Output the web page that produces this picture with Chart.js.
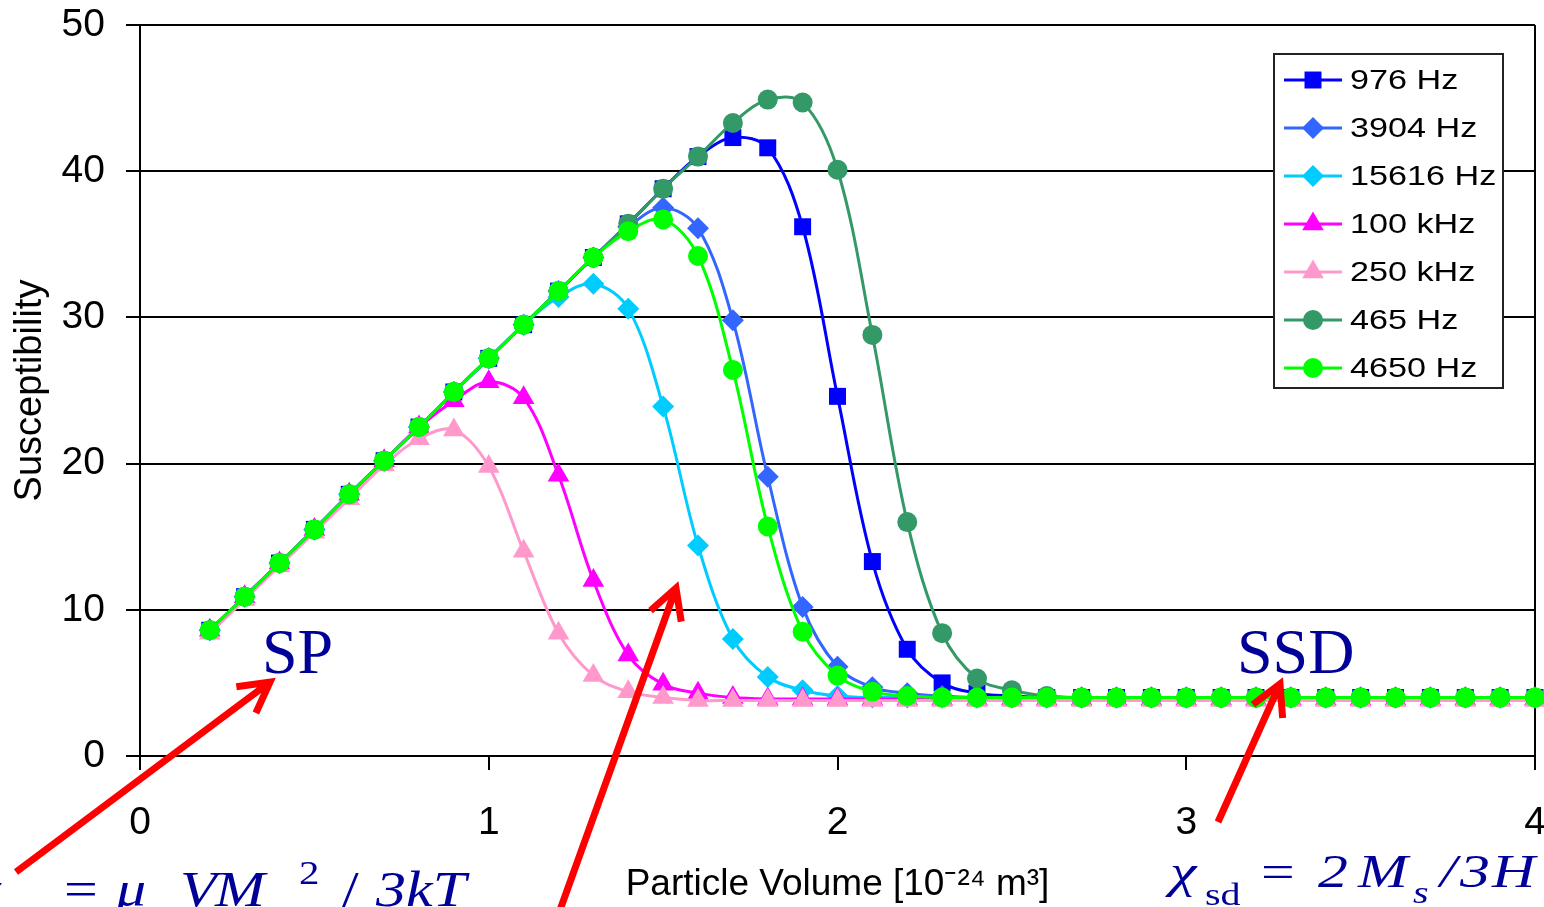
<!DOCTYPE html>
<html>
<head>
<meta charset="utf-8">
<script src="https://cdn.jsdelivr.net/npm/chart.js@4.4.1/dist/chart.umd.min.js"></script>
<style>
  html, body { margin: 0; padding: 0; background: #fff; overflow: hidden; }
  #wrap { width: 1544px; height: 907px; }
</style>
</head>
<body>
<div id="wrap"><canvas id="susChart"></canvas></div>
<script>
// particle volume [1e-24 m3]
const volume = [0.2, 0.3, 0.4, 0.5, 0.6, 0.7, 0.8, 0.9, 1.0, 1.1, 1.2, 1.3, 1.4, 1.5, 1.6, 1.7, 1.8, 1.9, 2.0,
  2.1, 2.2, 2.3, 2.4, 2.5, 2.6, 2.7, 2.8, 2.9, 3.0, 3.1, 3.2, 3.3, 3.4, 3.5, 3.6, 3.7, 3.8, 3.9, 4.0]

const seriesNames = ['976 Hz', '3904 Hz', '15616 Hz', '100 kHz', '250 kHz', '465 Hz', '4650 Hz']

const hz976 = [8.6, 10.9, 13.2, 15.5, 17.9, 20.2, 22.5, 24.9, 27.2, 29.5, 31.8, 34.1, 36.4, 38.8, 41.0,
  42.3, 41.6, 36.2, 24.6, 13.3, 7.3, 5.0, 4.3, 4.1,
  4, 4, 4, 4, 4, 4, 4, 4, 4, 4, 4, 4, 4, 4, 4]
const hz3904 = [8.6, 10.9, 13.2, 15.5, 17.9, 20.2, 22.5, 24.9, 27.2, 29.5, 31.8, 34.1,
  36.2, 37.5, 36.1, 29.8, 19.1, 10.2, 6.1, 4.7, 4.3, 4.1,
  4, 4, 4, 4, 4, 4, 4, 4, 4, 4, 4, 4, 4, 4, 4, 4, 4]
const hz15616 = [8.6, 10.9, 13.2, 15.5, 17.9, 20.2, 22.5, 24.9, 27.2, 29.5,
  31.4, 32.3, 30.6, 23.9, 14.4, 8.0, 5.4, 4.5, 4.1,
  4, 4, 4, 4, 4, 4, 4, 4, 4, 4, 4, 4, 4, 4, 4, 4, 4, 4, 4, 4]
const khz100 = [8.6, 10.9, 13.2, 15.5, 17.9, 20.2, 22.5,
  24.3, 25.6, 24.5, 19.2, 12.0, 6.9, 4.9, 4.3, 4.0,
  3.9, 3.9, 3.9, 3.9, 3.9, 3.9, 3.9, 3.9, 3.9, 3.9, 3.9, 3.9, 3.9, 3.9, 3.9, 3.9, 3.9, 3.9, 3.9, 3.9, 3.9, 3.9, 3.9]
const khz250 = [8.4, 10.7, 13.0, 15.3, 17.6, 19.9, 21.7, 22.3, 19.8, 14.0, 8.4, 5.5, 4.4, 4.0,
  3.8, 3.8, 3.8, 3.8, 3.8, 3.8, 3.8, 3.8, 3.8, 3.8, 3.8, 3.8, 3.8, 3.8, 3.8, 3.8, 3.8, 3.8, 3.8, 3.8, 3.8, 3.8, 3.8, 3.8, 3.8]
const hz465 = [8.6, 10.9, 13.2, 15.5, 17.9, 20.2, 22.5, 24.9, 27.2, 29.5, 31.8, 34.1, 36.4, 38.8, 41.0,
  43.3, 44.9, 44.7, 40.1, 28.8, 16.0, 8.4, 5.3, 4.5, 4.1,
  4, 4, 4, 4, 4, 4, 4, 4, 4, 4, 4, 4, 4, 4]
const hz4650 = [8.6, 10.9, 13.2, 15.5, 17.9, 20.2, 22.5, 24.9, 27.2, 29.5, 31.8, 34.1,
  35.9, 36.7, 34.2, 26.4, 15.7, 8.5, 5.5, 4.4, 4.1,
  4, 4, 4, 4, 4, 4, 4, 4, 4, 4, 4, 4, 4, 4, 4, 4, 4, 4]

const seriesValues = [hz976, hz3904, hz15616, khz100, khz250, hz465, hz4650]
const seriesColors = ['#0000FF', '#3366FF', '#00CCFF', '#FF00FF', '#FF99CC', '#339966', '#00FF00']
const seriesMarkers = ['rect', 'rectRot', 'rectRot', 'triangle', 'triangle', 'circle', 'circle']
const markerSizes = [12, 11, 11, 12.5, 12.5, 10, 10]

const sans = "'Liberation Sans', Arial, sans-serif"
const serif = "'Liberation Serif', 'Times New Roman', serif"

const datasets = seriesNames.map((name, i) => ({
  label: name,
  data: volume.map((v, j) => ({ x: v, y: seriesValues[i][j] })),
  borderColor: seriesColors[i],
  backgroundColor: seriesColors[i],
  pointBackgroundColor: seriesColors[i],
  pointBorderColor: seriesColors[i],
  pointBorderWidth: 0,
  pointStyle: seriesMarkers[i],
  pointRadius: markerSizes[i],
  borderWidth: 3,
  tension: 0.35,
  clip: false,
  order: seriesNames.length - i
}))

// boxed legend with line + marker, like the excel one
const boxLegend = {
  id: 'boxLegend',
  afterDatasetsDraw(chart) {
    const c = chart.ctx
    c.save()
    c.fillStyle = '#fff'
    c.fillRect(1274, 54, 229, 334)
    c.strokeStyle = '#222'
    c.lineWidth = 2
    c.strokeRect(1274, 54, 229, 334)
    chart.data.datasets.forEach((ds, i) => {
      const y = 80 + i * 48
      c.strokeStyle = ds.borderColor
      c.lineWidth = 3
      c.beginPath()
      c.moveTo(1284, y)
      c.lineTo(1342, y)
      c.stroke()
      c.fillStyle = ds.pointBackgroundColor
      Chart.helpers.drawPoint(c, { pointStyle: ds.pointStyle, radius: ds.pointRadius, rotation: 0, borderWidth: 0 }, 1313, y)
      c.save()
      c.translate(1350, y)
      c.scale(1.22, 1)
      c.fillStyle = '#000'
      c.font = '28px ' + sans
      c.textBaseline = 'middle'
      c.fillText(ds.label, 0, 1)
      c.restore()
    })
    c.restore()
  }
}

function txt(c, s, x, y, font, sx) {
  c.save()
  c.translate(x, y)
  c.scale(sx, 1)
  c.font = font
  c.fillText(s, 0, 0)
  c.restore()
}

function arrow(c, x1, y1, x2, y2) {
  const a = Math.atan2(y2 - y1, x2 - x1)
  const len = 34, spread = 0.5
  c.beginPath()
  c.moveTo(x1, y1)
  c.lineTo(x2, y2)
  c.moveTo(x2 - len * Math.cos(a - spread), y2 - len * Math.sin(a - spread))
  c.lineTo(x2, y2)
  c.lineTo(x2 - len * Math.cos(a + spread), y2 - len * Math.sin(a + spread))
  c.stroke()
}

// SP / SSD labels, formulas and red arrows
const notes = {
  id: 'notes',
  afterDraw(chart) {
    const c = chart.ctx
    c.save()
    c.fillStyle = '#000099'
    c.textBaseline = 'alphabetic'
    txt(c, 'SP', 262, 673, '64px ' + serif, 1)
    txt(c, 'SSD', 1237, 673, '64px ' + serif, 1)

    // chi_sp = mu0 V Ms^2 / 3kT  (bottom edge cuts it)
    const L = 'italic 50px ' + serif
    txt(c, 'χ', -26, 906, L, 1.2)
    txt(c, 'sp', 14, 945, '34px ' + serif, 1.2)
    txt(c, '=', 64, 906, '50px ' + serif, 1.2)
    txt(c, 'μ', 116, 906, L, 1.2)
    txt(c, '0', 143, 945, '34px ' + serif, 1.2)
    txt(c, 'V', 180, 906, L, 1.2)
    txt(c, 'M', 215, 906, L, 1.2)
    txt(c, 's', 268, 945, 'italic 34px ' + serif, 1.2)
    txt(c, '2', 299, 884, '34px ' + serif, 1.2)
    txt(c, '/', 342, 906, '50px ' + serif, 1.2)
    txt(c, '3kT', 376, 906, L, 1.2)

    // chi_sd = 2 Ms / 3H  (right edge cuts it)
    const R = 'italic 46px ' + serif
    txt(c, 'χ', 1170, 887, R, 1.3)
    txt(c, 'sd', 1205, 905, '32px ' + serif, 1.25)
    txt(c, '=', 1261, 887, '46px ' + serif, 1.3)
    txt(c, '2', 1318, 887, R, 1.3)
    txt(c, 'M', 1358, 887, R, 1.3)
    txt(c, 's', 1413, 903, 'italic 32px ' + serif, 1.25)
    txt(c, '/', 1440, 887, R, 1.3)
    txt(c, '3', 1460, 887, R, 1.3)
    txt(c, 'H', 1492, 887, R, 1.3)

    c.strokeStyle = '#FF0000'
    c.lineWidth = 7
    c.lineCap = 'butt'
    c.lineJoin = 'miter'
    arrow(c, 16, 872, 270, 682)
    arrow(c, 560, 910, 676, 588)
    arrow(c, 1218, 822, 1280, 684)
    c.restore()
  }
}

new Chart(document.getElementById('susChart'), {
  type: 'line',
  data: { datasets },
  plugins: [boxLegend, notes],
  options: {
    responsive: true,
    maintainAspectRatio: false,
    animation: false,
    layout: { autoPadding: false, padding: { top: 25, right: 9, left: 0, bottom: 0 } },
    plugins: { legend: { display: false }, tooltip: { enabled: false } },
    scales: {
      x: {
        type: 'linear',
        min: 0,
        max: 4,
        afterFit(s) { s.height = 151; s.paddingRight = 0; s.paddingLeft = 0 },
        ticks: { stepSize: 1, color: '#000', padding: 30, font: { family: sans, size: 39 } },
        grid: {
          color: ctx => (ctx.tick && ctx.tick.value === 4) ? '#000' : 'rgba(0,0,0,0)',
          lineWidth: 2,
          tickLength: 14,
          tickColor: '#000',
          tickWidth: 2
        },
        border: { display: true, color: '#000', width: 2 },
        title: {
          display: true,
          text: 'Particle Volume [10⁻²⁴ m³]',
          color: '#000',
          font: { family: sans, size: 37, lineHeight: 1.2 },
          padding: { top: 0, bottom: 0 }
        }
      },
      y: {
        min: 0,
        max: 50,
        afterFit(s) { s.width = 140; s.paddingTop = 0; s.paddingBottom = 0 },
        ticks: { stepSize: 10, color: '#000', padding: 21, font: { family: sans, size: 39 } },
        grid: { color: '#000', lineWidth: 2, tickLength: 14, tickColor: '#000', tickWidth: 2 },
        border: { display: true, color: '#000', width: 2 },
        title: {
          display: true,
          text: 'Susceptibility',
          color: '#000',
          font: { family: sans, size: 38, lineHeight: 1.2 },
          padding: { top: 8, bottom: 0 }
        }
      }
    }
  }
})
</script>
</body>
</html>
